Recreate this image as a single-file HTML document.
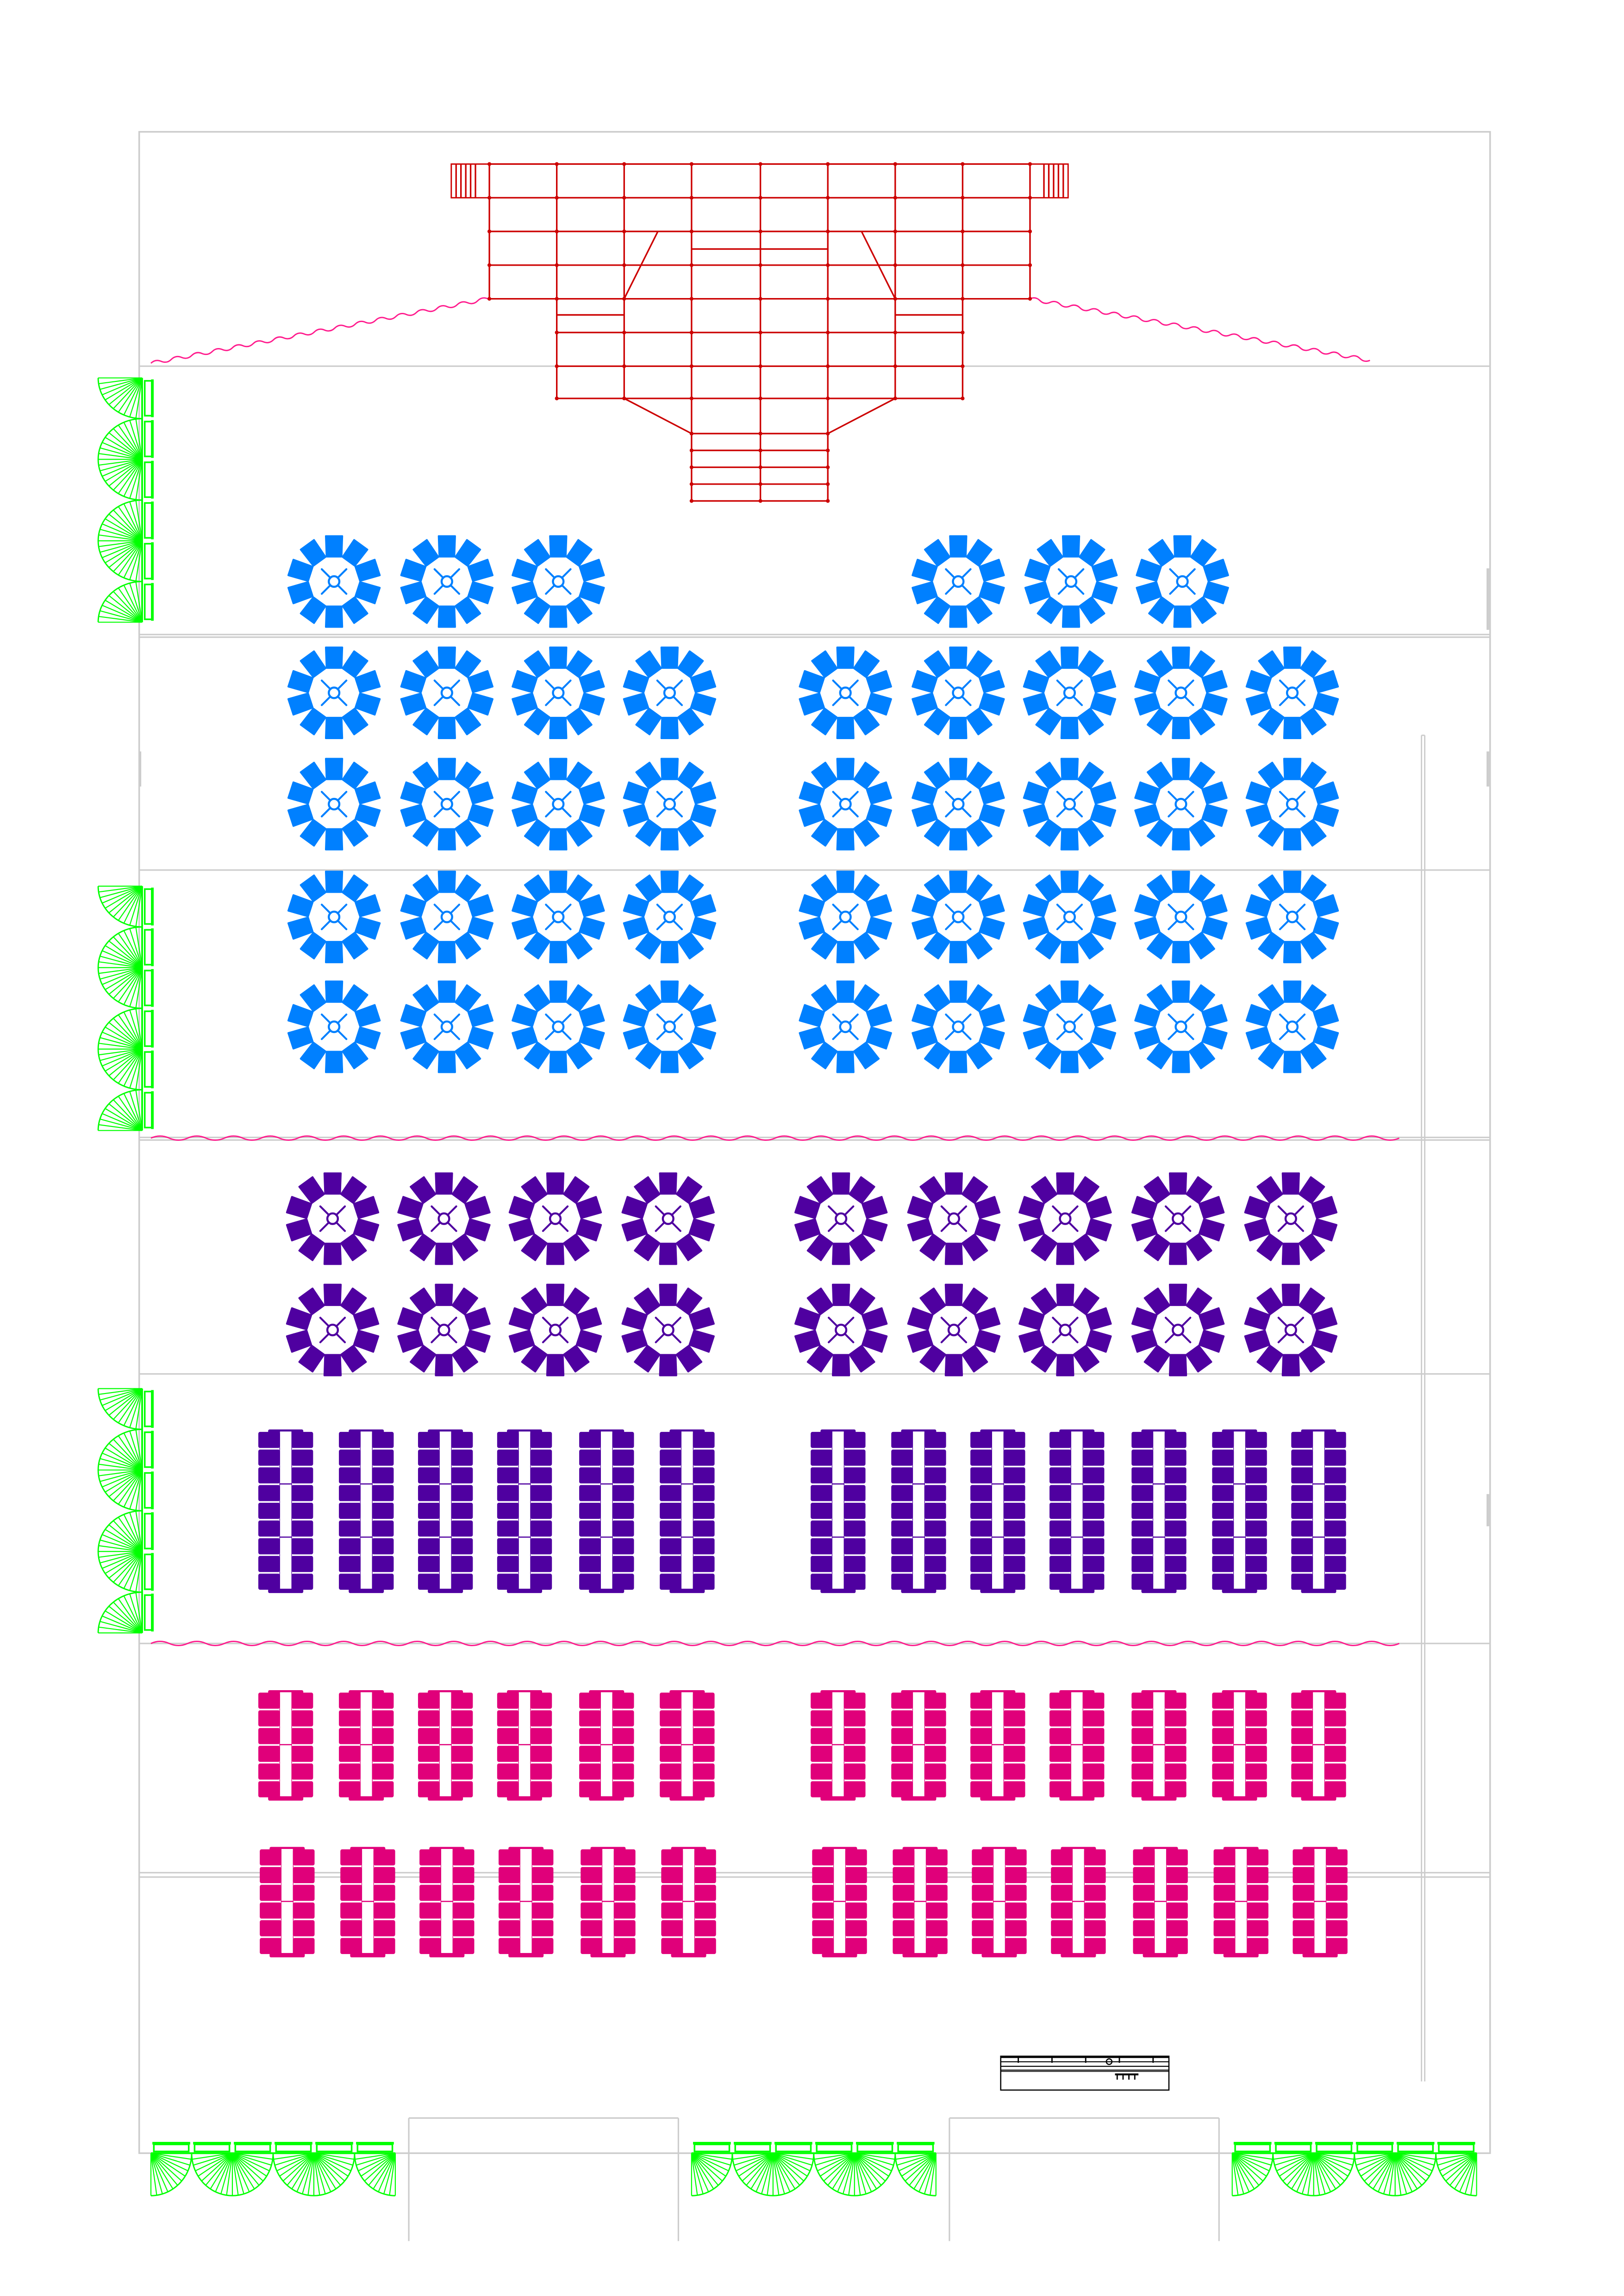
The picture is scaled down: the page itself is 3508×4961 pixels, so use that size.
<!DOCTYPE html>
<html><head><meta charset="utf-8"><style>
html,body{margin:0;padding:0;background:#fff;width:3508px;height:4961px;overflow:hidden}
svg{display:block}
</style></head><body>
<svg id="s" xmlns="http://www.w3.org/2000/svg" width="3508" height="4961" viewBox="0 0 1108.4 1567.5">
<g id="g"></g>
</svg>
<script>
var out=[];
function L(x1,y1,x2,y2,c,w){out.push('<line x1="'+x1+'" y1="'+y1+'" x2="'+x2+'" y2="'+y2+'" stroke="'+c+'" stroke-width="'+(w||1)+'"/>');}
function R(x,y,w,h,f,s,sw,rx){out.push('<rect x="'+x+'" y="'+y+'" width="'+w+'" height="'+h+'" fill="'+(f||'none')+'" stroke="'+(s||'none')+'" stroke-width="'+(sw||1)+'" rx="'+(rx||0)+'"/>');}
var G='#cccccc';
R(95,90,922,1380,'none',G,1.1);
[250,594,938,1122].forEach(function(y){L(95,y,1017,y,G,1);});
L(95,433.2,1017,433.2,G,1);L(95,435,1017,435,G,1);
L(95,776.5,1017,776.5,G,1);L(95,778.3,1017,778.3,G,1);
L(95,1278.5,1017,1278.5,G,1);L(95,1281.5,1017,1281.5,G,1);
L(970.2,502,970.2,1421,G,0.9);L(972.4,502,972.4,1421,G,0.9);L(970.2,502,972.4,502,G,0.9);
L(95.5,513,95.5,537,G,1.8);L(1015.5,388,1015.5,430,G,1.8);L(1015.5,513,1015.5,537,G,1.8);L(1015.5,1020,1015.5,1042,G,1.8);
[279,648].forEach(function(x){L(x,1446,x,1530,G,1);L(x+184,1446,x+184,1530,G,1);L(x,1446,x+184,1446,G,1);});
function wave(x1,y1,x2,y2,wl,amp){var dx=x2-x1,dy=y2-y1,len=Math.sqrt(dx*dx+dy*dy),ux=dx/len,uy=dy/len,nx=-uy,ny=ux;var d='M'+x1+' '+y1;var n=Math.round(len/(wl/2));var step=len/n;for(var i=0;i<n;i++){var t=(i+0.5)*step,s=(i%2?1:-1)*amp*2;var cx=x1+ux*t+nx*s,cy=y1+uy*t+ny*s;var ex=x1+ux*(i+1)*step,ey=y1+uy*(i+1)*step;d+=' Q'+cx.toFixed(2)+' '+cy.toFixed(2)+' '+ex.toFixed(2)+' '+ey.toFixed(2);}out.push('<path d="'+d+'" fill="none" stroke="#ff1a8c" stroke-width="0.9"/>');}
wave(103,777,955,777,25,1.4);wave(103,1122,955,1122,25,1.4);
wave(103,248,333,204,14,1.2);wave(703,204,935,246,14,1.2);
var RC='#cc0000';
function SL(a,b,c,d){L(a,b,c,d,RC,1.05);}
var cols=[334,380,426,472,519,565,611,657,703];
[112,135,158,181,204].forEach(function(y){SL(334,y,703,y);});
cols.forEach(function(x){SL(x,112,x,204);});
[308,703].forEach(function(x){R(x,112,26,23,'none',RC,0.9);for(var i=1;i<6;i++)SL(x+(x==308?i*3.3:26-i*3.3),112,x+(x==308?i*3.3:26-i*3.3),135);});
SL(472,170,565,170);
SL(449,158,426,204);SL(588,158,611,204);
[227,250,272].forEach(function(y){SL(380,y,657,y);});
SL(380,215,426,215);SL(611,215,657,215);
[380,426,472,519,565,611,657].forEach(function(x){SL(x,204,x,272);});
SL(426,272,472,296);SL(611,272,565,296);
[296,307.5,319,330.5,342].forEach(function(y){SL(472,y,565,y);});
[472,519,565].forEach(function(x){SL(x,272,x,342);});
function dot(x,y){out.push('<circle cx="'+x+'" cy="'+y+'" r="1.3" fill="'+RC+'"/>');}
[112,135,158,181,204].forEach(function(y){cols.forEach(function(x){dot(x,y);});});
[227,250,272].forEach(function(y){[380,426,472,519,565,611,657].forEach(function(x){dot(x,y);});});
[296,307.5,319,330.5,342].forEach(function(y){[472,519,565].forEach(function(x){dot(x,y);});});
function rt(cx,cy,c){var s='<g transform="translate('+cx+' '+cy+')">';for(var i=0;i<10;i++){s+='<path d="M-5.6 -31 L5.6 -31 L5.1 -17 L-5.1 -17 Z" fill="'+c+'" stroke="'+c+'" stroke-width="1.2" stroke-linejoin="round" transform="rotate('+(i*36)+')"/>';}
s+='<path d="M-8.4 -8.4L8.4 8.4M8.4 -8.4L-8.4 8.4" stroke="'+c+'" stroke-width="1.3" stroke-linecap="round"/>';s+='<circle r="2.9" fill="#fff"/><circle r="3.6" fill="none" stroke="'+c+'" stroke-width="1.4"/></g>';out.push(s);}
var B='#0080ff';
[228,305,381].forEach(function(x){rt(x,397,B);});[654,731,807].forEach(function(x){rt(x,397,B);});
[473,549,626,701].forEach(function(y){[228,305,381,457,577,654,730,806,882].forEach(function(x){rt(x,y,B);});});
var P='#4f00a0';
[832,908].forEach(function(y){[227,303,379,456,574,651,727,804,881].forEach(function(x){rt(x,y,P);});});
function rtab(cx,top,n,pitch,ch,c){var s='';var bot=top+n*pitch;
s+='<rect x="'+(cx-3.9)+'" y="'+(top-0.5)+'" width="7.8" height="'+(bot-top)+'" fill="#fff" stroke="'+c+'" stroke-width="0.8"/>';
s+='<rect x="'+(cx-12)+'" y="'+(top-1.6)+'" width="24" height="3" rx="1" fill="'+c+'"/>';
s+='<rect x="'+(cx-12)+'" y="'+(bot-1.8)+'" width="24" height="3" rx="1" fill="'+c+'"/>';
s+='<rect x="'+(cx-3.9)+'" y="'+(top-0.2)+'" width="7.8" height="'+(bot-top-1.6)+'" fill="#fff"/>';
for(var k=3;k<n;k+=3){var y=top+k*pitch-0.7;s+='<line x1="'+(cx-4)+'" y1="'+y+'" x2="'+(cx+4)+'" y2="'+y+'" stroke="'+c+'" stroke-width="0.8"/>';}
for(var i=0;i<n;i++){var y=top+i*pitch+(pitch-ch)/2-0.5;s+='<rect x="'+(cx-18.7)+'" y="'+y+'" width="14.8" height="'+ch+'" rx="1.2" fill="'+c+'"/><rect x="'+(cx+3.9)+'" y="'+y+'" width="14.8" height="'+ch+'" rx="1.2" fill="'+c+'"/>';}
out.push(s);}
var xs=[195,250,304,358,414,469,572,627,681,735,791,846,900];
xs.forEach(function(x){rtab(x,977.5,9,12.1,11,P);});
var K='#e0007a';
xs.forEach(function(x){rtab(x,1155.5,6,12.1,11,K);rtab(x+1,1262.5,6,12.1,11,K);});
var GR='#00ff00';
function fan(cx,cy,rx,ry,a0,a1,nr){var s='';var p0=[cx+rx*Math.cos(a0),cy+ry*Math.sin(a0)];
var d='M'+p0[0].toFixed(2)+' '+p0[1].toFixed(2);var N=40;for(var i=1;i<=N;i++){var a=a0+(a1-a0)*i/N;d+=' L'+(cx+rx*Math.cos(a)).toFixed(2)+' '+(cy+ry*Math.sin(a)).toFixed(2);}
s+='<path d="'+d+'" fill="none" stroke="'+GR+'" stroke-width="0.9"/>';
for(var i=0;i<=nr;i++){var a=a0+(a1-a0)*i/nr;s+='<line x1="'+cx+'" y1="'+cy+'" x2="'+(cx+rx*Math.cos(a)).toFixed(2)+'" y2="'+(cy+ry*Math.sin(a)).toFixed(2)+'" stroke="'+GR+'" stroke-width="0.7"/>';}
out.push(s);}
var PI=Math.PI;
[258,605,948].forEach(function(t){var r=27.8;
fan(97,t,30,r,PI/2,PI,11);fan(97,t+2*r,30,r,PI/2,1.5*PI,22);fan(97,t+4*r,30,r,PI/2,1.5*PI,22);fan(97,t+6*r,30,r,PI,1.5*PI,11);
L(97,t,97,t+6*r,GR,1.2);
for(var i=0;i<6;i++){var y=t+i*r;R(98.8,y+2,4.8,r-4,'none',GR,1.1);L(104,y+1,104,y+r-1,GR,1.8);}
});
[103,472,841].forEach(function(l){var r=27.8;var cy=1470;
fan(l,cy,r,29,0,PI/2,11);fan(l+2*r,cy,r,29,0,PI,22);fan(l+4*r,cy,r,29,0,PI,22);fan(l+6*r,cy,r,29,PI/2,PI,11);
L(l,cy,l+6*r,cy,GR,1.2);
for(var i=0;i<6;i++){var x=l+i*r;R(x+2,1464,r-4,4.8,'none',GR,1.1);L(x+1,1463.2,x+r-1,1463.2,GR,1.8);}
});
var T='#000';
R(683,1403.8,114.8,23.1,'none',T,0.8);
L(683,1404.3,797.8,1404.3,T,1.4);L(683,1407.6,797.8,1407.6,T,0.7);L(683,1410.7,797.8,1410.7,T,0.7);L(683,1413.3,797.8,1413.3,T,0.7);L(683,1414.2,797.8,1414.2,T,0.5);
[695,718,741,764,787].forEach(function(x){L(x,1404,x,1408.3,T,0.9);});
out.push('<circle cx="757" cy="1407.5" r="1.9" fill="none" stroke="#000" stroke-width="0.8"/>');
L(761,1416.2,777,1416.2,T,1.3);[762.5,766.5,770.5,774.5].forEach(function(x){L(x,1416,x,1419.8,T,0.9);});
document.getElementById('g').innerHTML=out.join('');
</script>
</body></html>
